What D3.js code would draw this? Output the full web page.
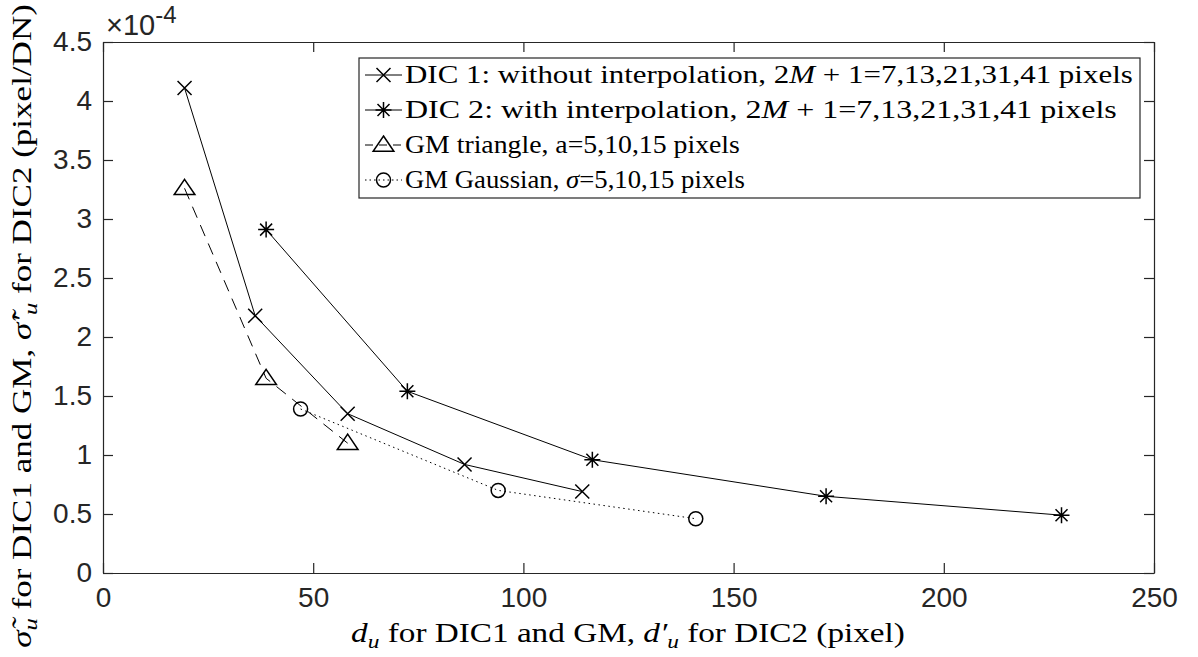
<!DOCTYPE html>
<meta charset="utf-8">
<head>
  <meta charset="utf-8">
  <title>uncertainty vs spatial resolution</title>
  <script src="https://d3js.org/d3.v7.min.js"></script>
</head>
<style>
body {margin:0; background:#fff;}
.axis path, .axis line {stroke:#262626; stroke-width:1.2px;}
.axis text {font-family:"Liberation Sans", Arial, sans-serif; font-size:28px; fill:#262626;}
.line {fill:none; stroke:#000; stroke-width:1px;}
.mark {fill:none; stroke:#000; stroke-width:1.5px;}
</style>
<body>
<script>

// data (y values are sigma in pixel/DN)
var dic1X = [19.4, 36.2, 58.2, 86.0, 114.0];
var dic1Y = [4.11e-4, 2.18e-4, 1.35e-4, 0.92e-4, 0.69e-4];
var dic2X = [38.8, 72.4, 116.4, 172.0, 228.0];
var dic2Y = [2.91e-4, 1.54e-4, 0.96e-4, 0.65e-4, 0.49e-4];
var triX = [19.4, 38.8, 58.2];
var triY = [3.26e-4, 1.65e-4, 1.10e-4];
var gauX = [47, 94, 141];
var gauY = [1.39e-4, 0.70e-4, 0.46e-4];

var xTicks = [0, 50, 100, 150, 200, 250];
var yTicks = [0, 0.5e-4, 1e-4, 1.5e-4, 2e-4, 2.5e-4, 3e-4, 3.5e-4, 4e-4, 4.5e-4];

var legendLabels = [
  ["DIC 1: without interpolation, ", "2M+1", "=7,13,21,31,41 pixels"],
  ["DIC 2: with interpolation, ", "2M+1", "=7,13,21,31,41 pixels"],
  [" GM triangle, a=5,10,15 pixels"],
  [" GM Gaussian, ", "σ", "=5,10,15 pixels"]
];

var SERIF = "Liberation Serif";

var W = 1198, H = 657;
var margin = {top: 42, right: 44, bottom: 84, left: 103},
    width = W - margin.left - margin.right,
    height = H - margin.top - margin.bottom;

var root = d3.select("body").append("svg")
    .attr("width", W)
    .attr("height", H);

var svg = root.append("g")
    .attr("transform", "translate(" + margin.left + "," + margin.top + ")");

var x = d3.scaleLinear().domain([0, 250]).range([0, width]);
var y = d3.scaleLinear().domain([0, 4.5e-4]).range([height, 0]);

var fmtY = function(d) { return d3.format("~g")(+(d * 1e4).toFixed(1)); };

// axes, ticks point inward, box on
svg.append("g").attr("class", "axis")
    .attr("transform", "translate(0," + height + ")")
    .call(d3.axisBottom(x).tickValues(xTicks).tickSize(-10).tickSizeOuter(0).tickPadding(14));
svg.append("g").attr("class", "axis")
    .call(d3.axisTop(x).tickValues(xTicks).tickSize(-10).tickSizeOuter(0).tickFormat(""));
svg.append("g").attr("class", "axis")
    .call(d3.axisLeft(y).tickValues(yTicks).tickSize(-10).tickSizeOuter(0).tickPadding(11).tickFormat(fmtY));
svg.append("g").attr("class", "axis")
    .attr("transform", "translate(" + width + ",0)")
    .call(d3.axisRight(y).tickValues(yTicks).tickSize(-10).tickSizeOuter(0).tickFormat(""));

// exponent label
var ex = root.append("text")
    .attr("x", 106).attr("y", 35)
    .attr("font-family", "Liberation Sans")
    .attr("font-size", 29).attr("fill", "#262626");
ex.append("tspan").text("×10");
ex.append("tspan").attr("dy", -12).attr("font-size", 24).text("-4");

// marker shapes
function markerPath(type, s) {
  if (type == "x") return "M" + (-s) + "," + (-s) + "L" + s + "," + s + "M" + (-s) + "," + s + "L" + s + "," + (-s);
  if (type == "star") {
    var a = s * 0.75;
    return "M0," + (-s) + "V" + s + "M" + (-s) + ",0H" + s +
      "M" + (-a) + "," + (-a) + "L" + a + "," + a + "M" + (-a) + "," + a + "L" + a + "," + (-a);
  }
  if (type == "tri") return "M0," + (-s) + "L" + (s * 1.15) + "," + (s * 0.7) + "L" + (-s * 1.15) + "," + (s * 0.7) + "Z";
  if (type == "o") return d3.arc()({innerRadius: 0, outerRadius: s, startAngle: 0, endAngle: 2 * Math.PI});
}

var series = [
  {xs: dic1X, ys: dic1Y, marker: "x", size: 7, dash: null},
  {xs: dic2X, ys: dic2Y, marker: "star", size: 8, dash: null},
  {xs: triX, ys: triY, marker: "tri", size: 9, dash: "12,8"},
  {xs: gauX, ys: gauY, marker: "o", size: 7, dash: "1.5,3.5"}
];

var valueline = d3.line()
    .x(function(d) { return x(d[0]); })
    .y(function(d) { return y(d[1]); });

series.forEach(function(s) {
  var pts = d3.zip(s.xs, s.ys);
  svg.append("path")
      .datum(pts)
      .attr("class", "line")
      .attr("stroke-dasharray", s.dash)
      .attr("d", valueline);
  svg.selectAll(null)
      .data(pts)
    .enter().append("path")
      .attr("class", "mark")
      .attr("transform", function(d) { return "translate(" + x(d[0]) + "," + y(d[1]) + ")"; })
      .attr("d", markerPath(s.marker, s.size));
});

// stretch a text horizontally so it spans the target width (LaTeX font is wider than Times)
function stretch(t, cx, cy, target, rot) {
  var len = t.node().getComputedTextLength();
  var sx = target / len;
  t.attr("transform", "translate(" + cx + "," + cy + ")" + (rot ? " rotate(" + rot + ")" : "") + " scale(" + sx + ",1)");
}

// legend
var lg = root.append("g").attr("transform", "translate(359,58)");
lg.append("rect")
    .attr("width", 781).attr("height", 140)
    .attr("fill", "#fff").attr("stroke", "#262626").attr("stroke-width", 1.2);

var legendWidths = [728, 712, 335, 340];

series.forEach(function(s, i) {
  var ry = 17 + i * 35;
  lg.append("line")
      .attr("x1", 6).attr("x2", 43).attr("y1", ry).attr("y2", ry)
      .attr("stroke", "#000").attr("stroke-width", 1)
      .attr("stroke-dasharray", s.dash ? (i == 2 ? "8,6" : "1.5,3") : null);
  lg.append("path")
      .attr("class", "mark")
      .attr("transform", "translate(24.5," + ry + ")")
      .attr("d", markerPath(s.marker, s.size));
  var t = lg.append("text")
      .attr("font-family", SERIF)
      .attr("font-size", 26);
  var parts = legendLabels[i];
  t.append("tspan").text(parts[0]);
  if (parts.length > 1) {
    if (parts[1] == "2M+1") {
      t.append("tspan").text("2");
      t.append("tspan").attr("font-style", "italic").text("M");
      t.append("tspan").text(" + 1");
    } else {
      t.append("tspan").attr("font-style", "italic").text(parts[1]);
    }
    t.append("tspan").text(parts[2]);
  }
  stretch(t, 46, ry + 8, legendWidths[i]);
});

// x label
var xl = root.append("text")
    .attr("font-family", SERIF)
    .attr("text-anchor", "middle")
    .attr("font-size", 27);
xl.append("tspan").attr("font-style", "italic").text("d");
xl.append("tspan").attr("font-style", "italic").attr("font-size", 19).attr("dy", 6).text("u");
xl.append("tspan").attr("dy", -6).text(" for DIC1 and GM, ");
xl.append("tspan").attr("font-style", "italic").text("d′");
xl.append("tspan").attr("font-style", "italic").attr("font-size", 19).attr("dy", 6).text("u");
xl.append("tspan").attr("dy", -6).text(" for DIC2 (pixel)");
stretch(xl, 628, 642, 554);

// y label
var yl = root.append("text")
    .attr("font-family", SERIF)
    .attr("text-anchor", "middle")
    .attr("font-size", 27);
yl.append("tspan").attr("font-style", "italic").text("σ̃");
yl.append("tspan").attr("font-style", "italic").attr("font-size", 19).attr("dy", 6).text("u");
yl.append("tspan").attr("dy", -6).text(" for DIC1 and GM, ");
yl.append("tspan").attr("font-style", "italic").text("σ̃′");
yl.append("tspan").attr("font-style", "italic").attr("font-size", 19).attr("dy", 6).text("u");
yl.append("tspan").attr("dy", -6).text(" for DIC2 (pixel/DN)");
stretch(yl, 31, 326, 644, -90);

</script>
</body>
